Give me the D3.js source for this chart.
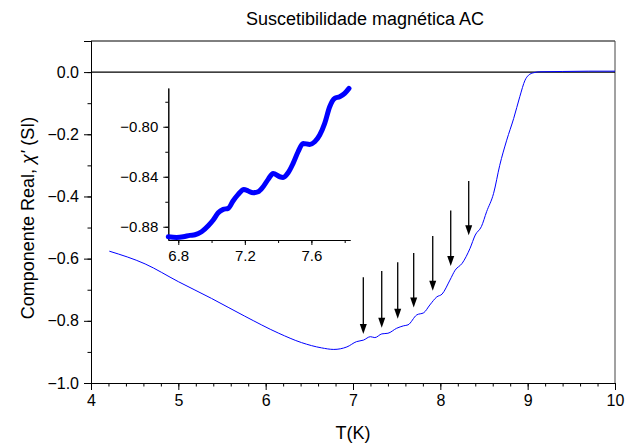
<!DOCTYPE html>
<html>
<head>
<meta charset="utf-8">
<script src="https://cdn.jsdelivr.net/npm/d3@7/dist/d3.min.js"></script>
<style>
  html, body { margin: 0; padding: 0; background: #fff; }
  svg text { font-family: "Liberation Sans", Arial, sans-serif; fill: #000; }
</style>
</head>
<body>
<svg id="chart" width="635" height="445"></svg>
<script>
// ---- Data ----
const titleText = "Suscetibilidade magnética AC";
const xLabel = "T(K)";

// main curve: temperature (K) and real susceptibility
const mainT   = [4.21, 4.62, 5.00, 5.38, 5.76, 6.15, 6.41, 6.64, 6.78, 6.93, 7.04, 7.12, 7.20, 7.25, 7.33, 7.40, 7.50, 7.58, 7.63, 7.73, 7.81, 7.88, 7.96, 8.02, 8.11, 8.17, 8.25, 8.34, 8.40, 8.47, 8.53, 8.61, 8.68, 8.76, 8.84, 8.91, 8.97, 9.01, 9.07, 9.14, 9.40, 9.70, 10.0];
const mainChi = [-0.576, -0.617, -0.674, -0.728, -0.785, -0.840, -0.870, -0.887, -0.892, -0.884, -0.867, -0.862, -0.851, -0.854, -0.842, -0.840, -0.824, -0.816, -0.813, -0.781, -0.774, -0.749, -0.723, -0.714, -0.669, -0.637, -0.615, -0.567, -0.524, -0.497, -0.449, -0.390, -0.300, -0.219, -0.149, -0.079, -0.026, -0.010, -0.002, 0.001, 0.002, 0.003, 0.003];

// inset (zoomed detail)
const insetT   = [6.74, 6.79, 6.83, 6.87, 6.90, 6.94, 6.98, 7.01, 7.04, 7.07, 7.10, 7.13, 7.16, 7.194, 7.22, 7.25, 7.28, 7.31, 7.34, 7.37, 7.41, 7.43, 7.46, 7.49, 7.52, 7.55, 7.59, 7.62, 7.65, 7.68, 7.71, 7.74, 7.77, 7.80, 7.826];
const insetChi = [-0.888, -0.8885, -0.888, -0.8869, -0.8864, -0.884, -0.8792, -0.8746, -0.8688, -0.8661, -0.8653, -0.8592, -0.8541, -0.8501, -0.8514, -0.8528, -0.852, -0.848, -0.8421, -0.8373, -0.840, -0.8405, -0.8368, -0.8293, -0.820, -0.8133, -0.8141, -0.812, -0.8066, -0.7973, -0.784, -0.7773, -0.776, -0.7733, -0.7693];

// arrows marking the steps
const arrowT   = [7.118, 7.329, 7.512, 7.695, 7.913, 8.119, 8.325];
const arrowTop = [-0.660, -0.640, -0.612, -0.582, -0.527, -0.445, -0.350];
const arrowTip = [-0.842, -0.822, -0.793, -0.757, -0.703, -0.624, -0.525];

// axes ticks
const xTicks = [4, 5, 6, 7, 8, 9, 10];
const yTicks = [0.0, -0.2, -0.4, -0.6, -0.8, -1.0];
const insetXTicks = [6.8, 7.2, 7.6];
const insetYTicks = [-0.80, -0.84, -0.88];

// ---- Layout ----
const svg = d3.select("#chart");
const L = 91, R = 615, T = 41, B = 383;
const FONT = "Liberation Sans, Arial, sans-serif";

const x = d3.scaleLinear().domain([4, 10]).range([L, R]);
const y = d3.scaleLinear().domain([-1.0, 0.1]).range([B, T]);

const fmt1 = d3.format(".1f");

// minor ticks
const xMinor = d3.range(4, 10.0001, 0.2);
const yMinor = d3.range(-1.0, 0.1001, 0.1);

// X axis
const gx = svg.append("g").attr("transform", `translate(0,${B})`);
gx.call(d3.axisBottom(x).tickValues(xMinor).tickSize(3.5).tickFormat(""));
gx.append("g").call(d3.axisBottom(x).tickValues(xTicks).tickSize(7).tickPadding(5).tickFormat(d3.format("d")));
gx.selectAll("text").attr("font-size", 16).attr("font-family", FONT);

// Y axis
const gy = svg.append("g").attr("transform", `translate(${L},0)`);
gy.call(d3.axisLeft(y).tickValues(yMinor).tickSize(3.5).tickFormat(""));
gy.append("g").call(d3.axisLeft(y).tickValues(yTicks).tickSize(7).tickPadding(5).tickFormat(fmt1));
gy.selectAll("text").attr("font-size", 16).attr("font-family", FONT);
svg.selectAll(".domain").attr("stroke-width", 1).attr("stroke", "#000");

// frame top + right
svg.append("line").attr("x1", L).attr("x2", R).attr("y1", T).attr("y2", T).attr("stroke", "#000");
svg.append("line").attr("x1", R).attr("x2", R).attr("y1", T).attr("y2", B).attr("stroke", "#444");

// zero line
svg.append("line").attr("x1", x(4)).attr("x2", x(10)).attr("y1", y(0)).attr("y2", y(0))
  .attr("stroke", "#000").attr("stroke-width", 1.2);

// main curve
const mainData = mainT.map((t, i) => [t, mainChi[i]]);
svg.append("path")
  .datum(mainData)
  .attr("fill", "none")
  .attr("stroke", "#0000ff")
  .attr("stroke-width", 1)
  .attr("d", d3.line().x(d => x(d[0])).y(d => y(d[1])).curve(d3.curveMonotoneX));

// arrows
arrowT.forEach((t, i) => {
  const ax = x(t), y0 = y(arrowTop[i]), y1 = y(arrowTip[i]);
  svg.append("line").attr("x1", ax).attr("x2", ax).attr("y1", y0).attr("y2", y1 - 8)
    .attr("stroke", "#000").attr("stroke-width", 1.3);
  svg.append("path")
    .attr("d", `M${ax - 3.5},${y1 - 10} L${ax + 3.5},${y1 - 10} L${ax},${y1} Z`)
    .attr("fill", "#000");
});

// ---- Inset ----
const iL = 168.3, iR = 350, iT = 88, iB = 240;
const ix = d3.scaleLinear().domain([6.74, 7.832]).range([iL, iR]);
const iy = d3.scaleLinear().domain([-0.8906, -0.7690]).range([iB, iT]);

const ixMinor = d3.range(6.8, 7.8001, 0.2);
const iyMinor = d3.range(-0.88, -0.7699, 0.02);

const igx = svg.append("g").attr("transform", `translate(0,${iB})`);
igx.call(d3.axisBottom(ix).tickValues(ixMinor).tickSize(3).tickFormat("").tickSizeOuter(0));
igx.append("g").call(d3.axisBottom(ix).tickValues(insetXTicks).tickSize(5).tickPadding(5).tickFormat(fmt1).tickSizeOuter(0));
igx.selectAll("text").attr("font-size", 15).attr("font-family", FONT);

const igy = svg.append("g").attr("transform", `translate(${iL},0)`);
igy.call(d3.axisLeft(iy).tickValues(iyMinor).tickSize(3).tickFormat("").tickSizeOuter(0));
igy.append("g").call(d3.axisLeft(iy).tickValues(insetYTicks).tickSize(5).tickPadding(5).tickFormat(d3.format(".2f")).tickSizeOuter(0));
igy.selectAll("text").attr("font-size", 15).attr("font-family", FONT);
svg.selectAll(".domain").attr("stroke", "#000");

const insetData = insetT.map((t, i) => [t, insetChi[i]]);
svg.append("path")
  .datum(insetData)
  .attr("fill", "none")
  .attr("stroke", "#0000ff")
  .attr("stroke-width", 5)
  .attr("stroke-linejoin", "round")
  .attr("stroke-linecap", "round")
  .attr("d", d3.line().x(d => ix(d[0])).y(d => iy(d[1])).curve(d3.curveMonotoneX));

// ---- Titles ----
svg.append("text").attr("x", 365).attr("y", 25).attr("text-anchor", "middle")
  .attr("font-size", 18).text(titleText);

svg.append("text").attr("x", (L + R) / 2).attr("y", 439).attr("text-anchor", "middle")
  .attr("font-size", 18).text(xLabel);

const yl = svg.append("text")
  .attr("transform", `translate(34,218) rotate(-90)`)
  .attr("text-anchor", "middle").attr("font-size", 18);
yl.append("tspan").text("Componente Real, ");
yl.append("tspan").attr("font-style", "italic").text("χ'");
yl.append("tspan").text(" (SI)");
</script>
</body>
</html>
